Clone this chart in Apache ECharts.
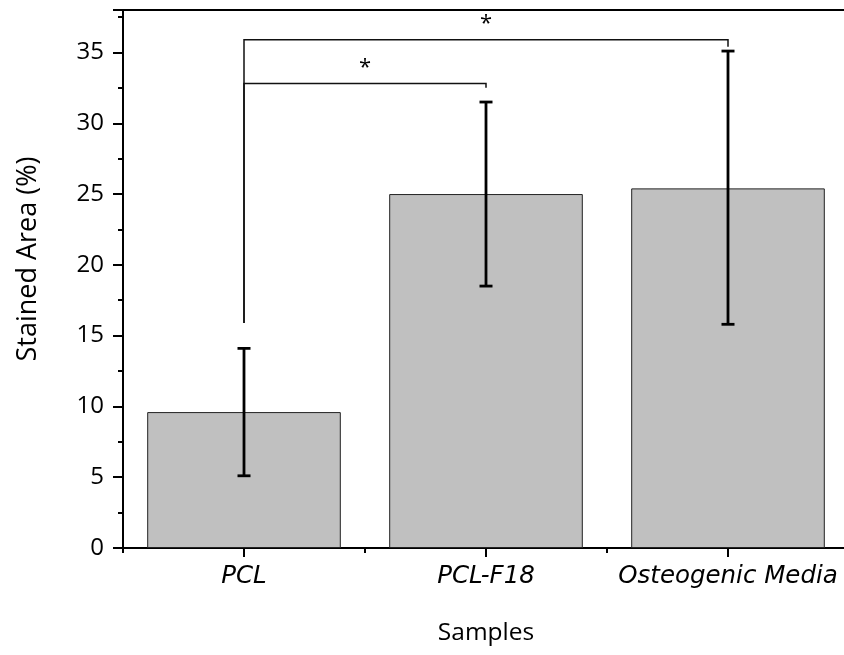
<!DOCTYPE html>
<html>
<head>
<meta charset="utf-8">
<script src="https://cdn.jsdelivr.net/npm/echarts@6/dist/echarts.min.js"></script>
<style>
html,body{margin:0;padding:0;background:#fff;}
#chart{width:844px;height:655px;}
</style>
</head>
<body>
<div id="chart"></div>
<script>
var categories = ['PCL', 'PCL-F18', 'Osteogenic Media'];
var means = [9.6, 25.0, 25.4];
var errLow = [5.1, 18.5, 15.8];
var errHigh = [14.1, 31.5, 35.1];
// brackets: [fromIndex, toIndex, leftStartY, levelY, rightEndY, label]
var brackets = [
  [0, 1, 15.9, 32.8, 32.5, '*'],
  [0, 2, 15.9, 35.9, 35.4, '*']
];
var yTicks = [0, 5, 10, 15, 20, 25, 30, 35];

var chart = echarts.init(document.getElementById('chart'));
var FONT = 'Open Sans';
var CATFONT = 'DejaVu Sans';
var option = {
  animation: false,
  backgroundColor: '#fff',
  grid: { left: 123, top: 10, width: 726, bottom: 107, containLabel: false, outerBoundsMode: 'none', show: true, borderColor: '#000', borderWidth: 2, backgroundColor: 'transparent' },
  xAxis: [{
    type: 'category',
    data: categories,
    boundaryGap: true,
    position: 'bottom',
    name: 'Samples',
    nameLocation: 'middle',
    nameGap: 73,
    nameTextStyle: { fontFamily: FONT, fontSize: 24.5, color: '#000' },
    axisLine: { show: true, lineStyle: { color: '#000', width: 2 } },
    axisTick: { show: true, alignWithLabel: true, length: 9, lineStyle: { color: '#000', width: 2 } },
    axisLabel: { interval: 0, hideOverlap: false, fontFamily: CATFONT, fontSize: 24.5, fontStyle: 'italic', color: '#000', margin: 16 },
    splitLine: { show: false }
  }, {
    type: 'category',
    data: categories,
    boundaryGap: true,
    position: 'bottom',
    offset: 0,
    axisLine: { show: false },
    axisTick: { show: true, alignWithLabel: false, interval: 0, length: 5, lineStyle: { color: '#000', width: 2 } },
    axisLabel: { show: false },
    splitLine: { show: false }
  }],
  yAxis: {
    type: 'value',
    min: 0,
    max: 38,
    interval: 5,
    axisLine: { show: true, lineStyle: { color: '#000', width: 2 } },
    axisTick: { show: true, length: 10, lineStyle: { color: '#000', width: 2 } },
    minorTick: { show: true, splitNumber: 2, length: 5, lineStyle: { color: '#000', width: 2 } },
    axisLabel: {
      fontFamily: FONT, fontSize: 24, color: '#000', margin: 19,
      formatter: function (v) { return yTicks.indexOf(v) >= 0 ? String(v) : ''; }
    },
    splitLine: { show: false }
  },
  graphic: [{
    type: 'text',
    x: 28, y: 259,
    rotation: Math.PI / 2,
    style: { text: 'Stained Area (%)', fontFamily: FONT, fontSize: 27, fill: '#000', align: 'center', verticalAlign: 'middle' }
  }],
  series: [{
    type: 'bar',
    data: means,
    barWidth: '80%',
    itemStyle: { color: '#c0c0c0', borderColor: '#222', borderWidth: 1 },
    z: 2
  }, {
    type: 'custom',
    z: 5,
    data: categories.map(function (c, i) { return [i, errLow[i], errHigh[i]]; }),
    renderItem: function (params, api) {
      var lo = api.coord([api.value(0), api.value(1)]);
      var hi = api.coord([api.value(0), api.value(2)]);
      var w = 6.5;
      var st = { stroke: '#000', lineWidth: 2.8 };
      return { type: 'group', children: [
        { type: 'line', shape: { x1: hi[0], y1: hi[1], x2: lo[0], y2: lo[1] }, style: st },
        { type: 'line', shape: { x1: hi[0] - w, y1: hi[1], x2: hi[0] + w, y2: hi[1] }, style: st },
        { type: 'line', shape: { x1: lo[0] - w, y1: lo[1], x2: lo[0] + w, y2: lo[1] }, style: st }
      ]};
    }
  }, {
    type: 'custom',
    z: 4,
    data: brackets,
    renderItem: function (params, api) {
      var a = api.coord([api.value(0), api.value(2)]);
      var b = api.coord([api.value(0), api.value(3)]);
      var c = api.coord([api.value(1), api.value(3)]);
      var d = api.coord([api.value(1), api.value(4)]);
      var st = { stroke: '#111', lineWidth: 1.5, fill: null };
      return { type: 'group', children: [
        { type: 'polyline', shape: { points: [a, b, c, d] }, style: st },
        { type: 'text', x: (b[0] + c[0]) / 2, y: b[1] - 16,
          style: { text: brackets[params.dataIndex][5], fontFamily: FONT, fontSize: 22, fill: '#000', align: 'center', verticalAlign: 'middle' } }
      ]};
    }
  }]
};
chart.setOption(option);
</script>
</body>
</html>
